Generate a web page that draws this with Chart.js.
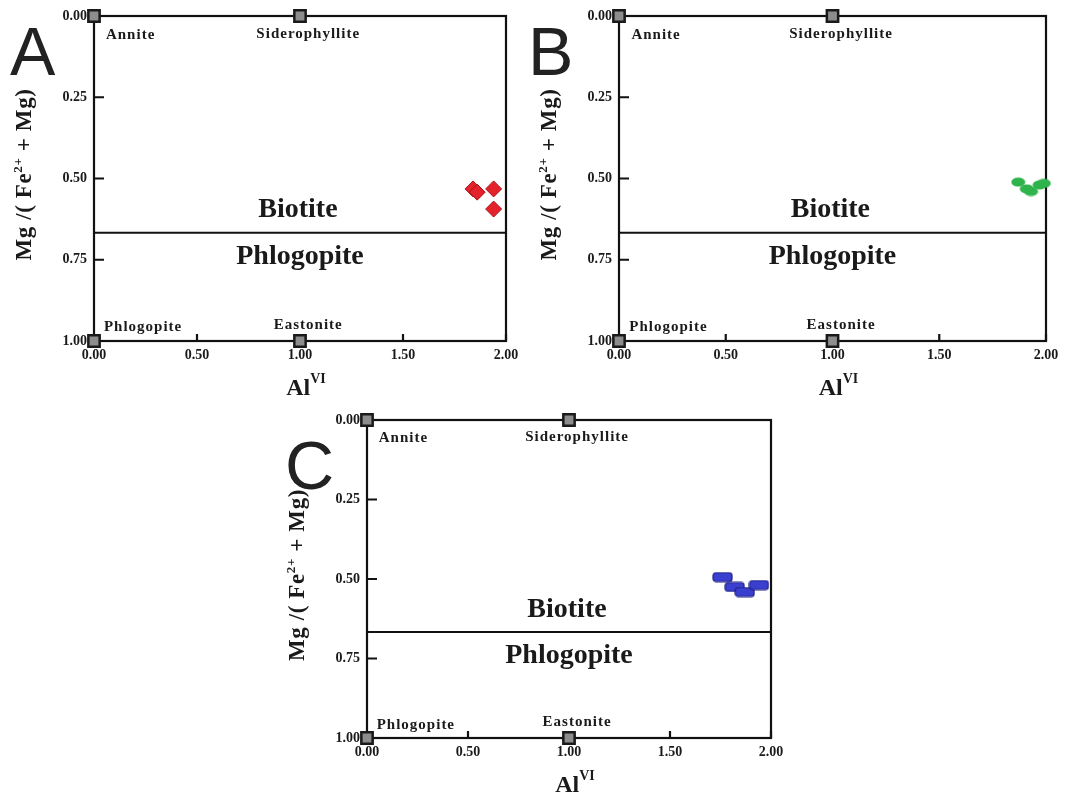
<!DOCTYPE html>
<html>
<head>
<meta charset="utf-8">
<title>Biotite classification</title>
<script src="https://cdn.jsdelivr.net/npm/chart.js@4.4.0/dist/chart.umd.min.js"></script>
<style>
  body { margin: 0; background: #fff; width: 1067px; height: 798px; overflow: hidden; position: relative; }
  .panel { position: absolute; }
  .letter { position: absolute; font-family: 'Liberation Sans', Arial, sans-serif; font-size: 68px; line-height: 68px; color: #222; }
</style>
</head>
<body>
<div class="panel" style="left:0;top:0;width:520px;height:400px"><canvas id="chartA"></canvas></div>
<div class="panel" style="left:525px;top:0;width:535px;height:400px"><canvas id="chartB"></canvas></div>
<div class="panel" style="left:273px;top:404px;width:512px;height:394px"><canvas id="chartC"></canvas></div>
<div class="letter" style="left:10px;top:17px">A</div>
<div class="letter" style="left:528px;top:17px">B</div>
<div class="letter" style="left:285px;top:431px">C</div>
<script>
// ---------------------------------------------------------------------------
// Data
// ---------------------------------------------------------------------------
const xTicks = [0, 0.5, 1, 1.5, 2];
const yTicks = [0, 0.25, 0.5, 0.75, 1];

// end members of the annite - siderophyllite - phlogopite - eastonite plane
const endMemberNames = ['Annite', 'Siderophyllite', 'Phlogopite', 'Eastonite'];
const endMemberX = [0, 1, 0, 1];
const endMemberY = [0, 0, 1, 1];

// biotite / phlogopite boundary
const boundaryX = [0, 2];
const boundaryY = [0.667, 0.667];
const fieldNames = ['Biotite', 'Phlogopite'];

// samples (AlVI, Mg/(Fe2+ + Mg))
const sampleAX = [1.84, 1.86, 1.94, 1.94];
const sampleAY = [0.532, 0.542, 0.532, 0.594];
const sampleBX = [1.87, 1.91, 1.93, 1.97, 1.99];
const sampleBY = [0.511, 0.532, 0.540, 0.520, 0.515];
const sampleCX = [1.76, 1.82, 1.87, 1.94];
const sampleCY = [0.494, 0.525, 0.541, 0.519];

// ---------------------------------------------------------------------------
// Marker images
// ---------------------------------------------------------------------------
function ellipseMarker() {
  const c = document.createElement('canvas');
  c.width = 15; c.height = 10;
  const g = c.getContext('2d');
  g.fillStyle = '#2fb34c';
  g.beginPath();
  g.ellipse(7.5, 5, 7, 4.6, 0, 0, Math.PI * 2);
  g.fill();
  return c;
}

function barMarker() {
  const c = document.createElement('canvas');
  c.width = 21; c.height = 11;
  const g = c.getContext('2d');
  g.fillStyle = '#3a3fcf';
  g.strokeStyle = '#1c2080';
  g.lineWidth = 1.2;
  g.beginPath();
  g.roundRect(1, 1, 19, 9, 3);
  g.fill();
  g.stroke();
  return c;
}

// ---------------------------------------------------------------------------
// Frame, inside ticks, field names and axis titles
// ---------------------------------------------------------------------------
const labelLayout = [
  { x: 0.058, y: 0.058, align: 'left' },
  { x: 1.04, y: 0.055, align: 'center' },
  { x: 0.048, y: 0.958, align: 'left' },
  { x: 1.04, y: 0.95, align: 'center' }
];
const fieldLayout = [
  { x: 0.99, y: 0.597 },
  { x: 1.0, y: 0.742 }
];

function drawRich(ctx, parts, x, y) {
  // parts: [text, size, rise]
  let total = 0;
  parts.forEach(p => {
    ctx.font = 'bold ' + p[1] + 'px "Liberation Serif", "Times New Roman", serif';
    total += ctx.measureText(p[0]).width;
  });
  let cx = x - total / 2;
  parts.forEach(p => {
    ctx.font = 'bold ' + p[1] + 'px "Liberation Serif", "Times New Roman", serif';
    ctx.fillText(p[0], cx, y - p[2]);
    cx += ctx.measureText(p[0]).width;
  });
}

const diagramPlugin = {
  id: 'diagram',
  beforeDatasetsDraw(chart) {
    const { ctx, chartArea: a, scales: { x, y } } = chart;
    ctx.save();
    ctx.strokeStyle = '#111';
    ctx.lineWidth = 2.2;
    ctx.strokeRect(a.left, a.top, a.right - a.left, a.bottom - a.top);

    ctx.beginPath();
    yTicks.forEach(v => {
      const py = y.getPixelForValue(v);
      ctx.moveTo(a.left, py);
      ctx.lineTo(a.left + 10, py);
    });
    xTicks.forEach(v => {
      const px = x.getPixelForValue(v);
      ctx.moveTo(px, a.bottom);
      ctx.lineTo(px, a.bottom - 7);
    });
    ctx.stroke();

    ctx.fillStyle = '#1a1a1a';
    ctx.textBaseline = 'middle';
    ctx.letterSpacing = '1px';
    ctx.font = 'bold 15px "Liberation Serif", "Times New Roman", serif';
    endMemberNames.forEach((name, i) => {
      const l = labelLayout[i];
      ctx.textAlign = l.align;
      ctx.fillText(name, x.getPixelForValue(l.x), y.getPixelForValue(l.y));
    });

    ctx.letterSpacing = '0px';
    ctx.font = 'bold 28px "Liberation Serif", "Times New Roman", serif';
    ctx.textAlign = 'center';
    fieldNames.forEach((name, i) => {
      const l = fieldLayout[i];
      ctx.fillText(name, x.getPixelForValue(l.x), y.getPixelForValue(l.y));
    });
    ctx.restore();
  },
  afterDraw(chart) {
    const { ctx, chartArea: a } = chart;
    ctx.save();
    ctx.fillStyle = '#1a1a1a';
    ctx.textAlign = 'left';
    ctx.textBaseline = 'alphabetic';

    // x title: Al with superscript VI
    drawRich(ctx, [['Al', 24, 0], ['VI', 14, 12]], (a.left + a.right) / 2 + 6, a.bottom + 54);

    // y title, rotated
    ctx.translate(a.left - 63, (a.top + a.bottom) / 2 - 4);
    ctx.rotate(-Math.PI / 2);
    ctx.letterSpacing = '0.6px';
    drawRich(ctx, [['Mg /( Fe', 23, 0], ['2+', 13, 9], [' + Mg)', 23, 0]], 0, 0);
    ctx.restore();
  }
};

// ---------------------------------------------------------------------------
// Chart factory
// ---------------------------------------------------------------------------
const tickFont = { family: "'Liberation Serif', 'Times New Roman', serif", size: 14, weight: 'bold' };

function makeDiagram(canvasId, sx, sy, sampleStyle, axisHeight) {
  const points = (xs, ys) => xs.map((v, i) => ({ x: v, y: ys[i] }));
  return new Chart(document.getElementById(canvasId), {
    type: 'scatter',
    data: {
      datasets: [
        {
          label: 'boundary',
          data: points(boundaryX, boundaryY),
          showLine: true,
          borderColor: '#111',
          borderWidth: 2,
          pointRadius: 0
        },
        Object.assign({
          label: 'samples',
          data: points(sx, sy),
          clip: false
        }, sampleStyle),
        {
          label: 'end members',
          data: points(endMemberX, endMemberY),
          pointStyle: 'rect',
          pointRadius: 8,
          backgroundColor: '#8d8d8d',
          borderColor: '#1a1a1a',
          borderWidth: 2.5,
          clip: false
        }
      ]
    },
    options: {
      responsive: true,
      maintainAspectRatio: false,
      animation: false,
      events: [],
      layout: { padding: { top: 16, right: 14, bottom: 0, left: 0 } },
      plugins: { legend: { display: false }, tooltip: { enabled: false } },
      scales: {
        x: {
          type: 'linear',
          min: 0,
          max: 2,
          grid: { display: false, drawTicks: false },
          border: { display: false },
          afterBuildTicks: s => { s.ticks = xTicks.map(v => ({ value: v })); },
          afterFit: s => { s.height = axisHeight; s.paddingLeft = 0; s.paddingRight = 0; },
          ticks: {
            color: '#1a1a1a',
            font: tickFont,
            padding: 6,
            maxRotation: 0,
            callback: v => v.toFixed(2)
          }
        },
        y: {
          type: 'linear',
          min: 0,
          max: 1,
          reverse: true,
          grid: { display: false, drawTicks: false },
          border: { display: false },
          afterBuildTicks: s => { s.ticks = yTicks.map(v => ({ value: v })); },
          afterFit: s => { s.width = 94; s.paddingTop = 0; s.paddingBottom = 0; },
          ticks: {
            color: '#1a1a1a',
            font: tickFont,
            padding: 7,
            callback: v => v.toFixed(2)
          }
        }
      }
    },
    plugins: [diagramPlugin]
  });
}

const chartA = makeDiagram('chartA', sampleAX, sampleAY, {
  pointStyle: 'rectRot',
  pointRadius: 8,
  backgroundColor: '#e3222b',
  borderColor: '#a8141b',
  borderWidth: 1
}, 59);

const chartB = makeDiagram('chartB', sampleBX, sampleBY, {
  pointStyle: ellipseMarker(),
  pointRadius: 6
}, 59);

const chartC = makeDiagram('chartC', sampleCX, sampleCY, {
  pointStyle: barMarker(),
  pointRadius: 6
}, 60);
</script>
</body>
</html>
